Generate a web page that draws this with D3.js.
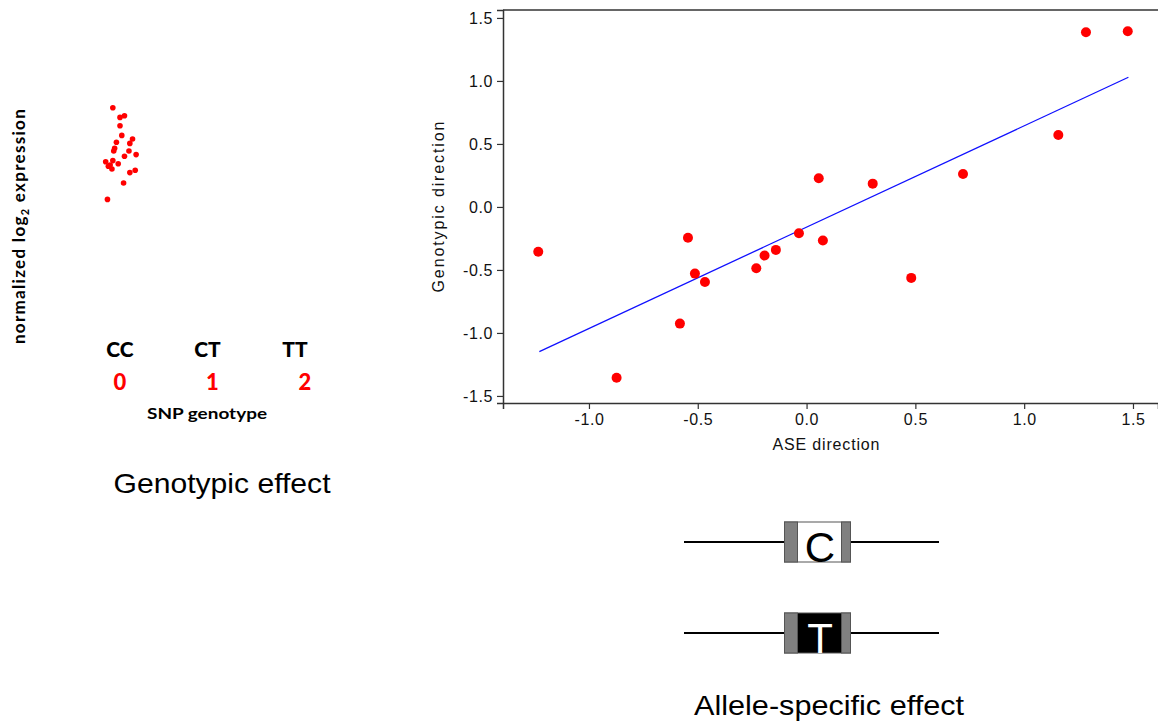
<!DOCTYPE html>
<html>
<head>
<meta charset="utf-8">
<script src="https://cdn.jsdelivr.net/npm/d3@7"></script>
<style>
  html, body { margin: 0; padding: 0; background: #fff; }
  svg { display: block; }
</style>
</head>
<body>
<svg id="chart" width="1158" height="721"></svg>
<script>
// ---------- Data ----------
// Left panel: genotype strip plot (all observed samples in CC group)
const genotypeLabels = ["CC", "CT", "TT"];
const genotypeCodes = ["0", "1", "2"];
const stripGenotype = [0,0,0,0,0,0,0,0,0,0,0,0,0,0,0,0,0,0,0,0,0,0,0];
const stripJitter = [-0.08,0.0,0.05,0.0,0.02,0.14,-0.04,0.11,-0.06,-0.07,0.1,0.18,0.05,-0.16,-0.08,-0.02,-0.13,-0.09,-0.11,0.17,0.11,0.04,-0.14];
const stripExpr = [8.68,8.44,8.48,8.23,7.99,7.90,7.82,7.79,7.67,7.60,7.60,7.51,7.47,7.33,7.36,7.28,7.22,7.15,7.25,7.12,7.06,6.80,6.39];

// Right panel: ASE direction vs genotypic direction
const aseX = [-1.233,-0.545,-0.513,-0.467,-0.582,-0.873,-0.231,-0.193,-0.141,-0.035,0.056,0.075,0.304,0.481,0.719,1.157,1.284,1.476];
const genoY = [-0.355,-0.244,-0.529,-0.595,-0.926,-1.355,-0.487,-0.386,-0.341,-0.209,0.228,-0.267,0.185,-0.563,0.262,0.571,1.386,1.394];
const fitX = [-1.228, 1.479];
const fitY = [-1.148, 1.029];
const xTicks = [-1.0,-0.5,0.0,0.5,1.0,1.5];
const yTicks = [-1.5,-1.0,-0.5,0.0,0.5,1.0,1.5];

// Allele diagram
const alleles = ["C", "T"];

// ---------- Drawing ----------
const svg = d3.select("#chart");
const sans = "'Liberation Sans', Arial, sans-serif";
const calib = "Lato, 'Open Sans', sans-serif";

// ===== Left panel =====
const gx = d3.scaleLinear().domain([0, 2]).range([120, 299]);
const gy = d3.scaleLinear().domain([6, 9]).range([215, 95]);

svg.append("g").selectAll("circle")
  .data(stripExpr)
  .join("circle")
  .attr("cx", (d, i) => gx(stripGenotype[i] + stripJitter[i]))
  .attr("cy", d => gy(d))
  .attr("r", 2.8)
  .attr("fill", "#ff0000");

svg.append("g").selectAll("text")
  .data(genotypeLabels)
  .join("text")
  .attr("x", (d, i) => gx(i) - i * 2)
  .attr("y", 357)
  .attr("text-anchor", "middle")
  .attr("font-family", calib)
  .attr("font-weight", 900)
  .attr("font-size", 21)
  .attr("fill", "#000")
  .text(d => d);

svg.append("g").selectAll("text")
  .data(genotypeCodes)
  .join("text")
  .attr("x", (d, i) => gx(i) + i * 3)
  .attr("y", 390)
  .attr("text-anchor", "middle")
  .attr("font-family", calib)
  .attr("font-weight", 900)
  .attr("font-size", 22)
  .attr("fill", "#ff0000")
  .text(d => d);

svg.append("text")
  .attr("x", 207)
  .attr("y", 419)
  .attr("text-anchor", "middle")
  .attr("font-family", calib)
  .attr("font-weight", "bold")
  .attr("font-size", 16)
  .attr("textLength", 120)
  .attr("lengthAdjust", "spacingAndGlyphs")
  .text("SNP genotype");

const yl = svg.append("text")
  .attr("transform", "translate(25,226) rotate(-90)")
  .attr("text-anchor", "middle")
  .attr("font-family", calib)
  .attr("font-weight", "bold")
  .attr("font-size", 17)
  .attr("letter-spacing", 1.3)
  .attr("fill", "#000");
yl.append("tspan").text("normalized log");
yl.append("tspan").attr("font-size", 11).attr("dy", 4).text("2");
yl.append("tspan").attr("dy", -4).text(" expression");

svg.append("text")
  .attr("x", 222)
  .attr("y", 493)
  .attr("text-anchor", "middle")
  .attr("font-family", sans)
  .attr("font-size", 28)
  .attr("textLength", 217)
  .attr("lengthAdjust", "spacingAndGlyphs")
  .attr("fill", "#000")
  .text("Genotypic effect");

// ===== Right panel: scatter =====
const pLeft = 503, pTop = 10, pBottom = 403, pRight = 1158;
const x = d3.scaleLinear().domain([-1.395, 1.615]).range([pLeft, pRight]);
const y = d3.scaleLinear().domain([-1.556, 1.563]).range([pBottom, pTop]);

const axisColor = "#333";

// top frame line
svg.append("line")
  .attr("x1", pLeft).attr("x2", pRight)
  .attr("y1", pTop).attr("y2", pTop)
  .attr("stroke", axisColor).attr("stroke-width", 1.5);

const xAxis = svg.append("g")
  .attr("transform", `translate(0,${pBottom})`)
  .call(d3.axisBottom(x).tickValues(xTicks).tickFormat(d3.format(".1f")).tickSize(6).tickPadding(5));
const yAxis = svg.append("g")
  .attr("transform", `translate(${pLeft},0)`)
  .call(d3.axisLeft(y).tickValues(yTicks).tickFormat(d3.format(".1f")).tickSize(6).tickPadding(4));

[xAxis, yAxis].forEach(ax => {
  ax.select(".domain").attr("stroke", axisColor).attr("stroke-width", 1.5);
  ax.selectAll(".tick line").attr("stroke", axisColor).attr("stroke-width", 1.2);
  ax.selectAll(".tick text")
    .attr("font-family", sans)
    .attr("font-size", 16)
    .attr("letter-spacing", 0.6)
    .attr("fill", "#111")
    .text(d => d3.format(".1f")(d).replace("−", "-"));
});

// regression line
svg.append("path")
  .datum(fitX.map((d, i) => [d, fitY[i]]))
  .attr("d", d3.line().x(d => x(d[0])).y(d => y(d[1])))
  .attr("stroke", "#1010ff")
  .attr("stroke-width", 1.3)
  .attr("fill", "none");

svg.append("g").selectAll("circle")
  .data(aseX)
  .join("circle")
  .attr("cx", d => x(d))
  .attr("cy", (d, i) => y(genoY[i]))
  .attr("r", 5)
  .attr("fill", "#ff0000");

svg.append("text")
  .attr("x", 826)
  .attr("y", 450)
  .attr("text-anchor", "middle")
  .attr("font-family", sans)
  .attr("font-size", 16)
  .attr("textLength", 107)
  .attr("fill", "#111")
  .text("ASE direction");

svg.append("text")
  .attr("transform", "translate(444,207) rotate(-90)")
  .attr("text-anchor", "middle")
  .attr("font-family", sans)
  .attr("font-size", 16)
  .attr("textLength", 171)
  .attr("fill", "#111")
  .text("Genotypic direction");

// ===== Allele diagram =====
const rowY = d3.scalePoint().domain(alleles).range([542, 633]);
const ag = svg.append("g").selectAll("g")
  .data(alleles)
  .join("g")
  .attr("transform", d => `translate(0,${rowY(d)})`);

ag.append("line")
  .attr("x1", 684).attr("x2", 939)
  .attr("y1", 0).attr("y2", 0)
  .attr("stroke", "#000").attr("stroke-width", 2);
ag.append("rect")
  .attr("x", 784.5).attr("y", -20).attr("width", 66).attr("height", 40)
  .attr("fill", d => d === "C" ? "#fff" : "#000")
  .attr("stroke", "#555").attr("stroke-width", 1);
ag.append("rect")
  .attr("x", 784.5).attr("y", -20).attr("width", 13).attr("height", 40)
  .attr("fill", "#808080").attr("stroke", "#555").attr("stroke-width", 1);
ag.append("rect")
  .attr("x", 841.5).attr("y", -20).attr("width", 9).attr("height", 40)
  .attr("fill", "#808080").attr("stroke", "#555").attr("stroke-width", 1);
ag.append("text")
  .attr("x", 820)
  .attr("y", 20)
  .attr("text-anchor", "middle")
  .attr("font-family", sans)
  .attr("font-size", 42)
  .attr("fill", d => d === "C" ? "#000" : "#fff")
  .text(d => d);

svg.append("text")
  .attr("x", 829)
  .attr("y", 715)
  .attr("text-anchor", "middle")
  .attr("font-family", sans)
  .attr("font-size", 28)
  .attr("textLength", 270)
  .attr("lengthAdjust", "spacingAndGlyphs")
  .attr("fill", "#000")
  .text("Allele-specific effect");
</script>
</body>
</html>
